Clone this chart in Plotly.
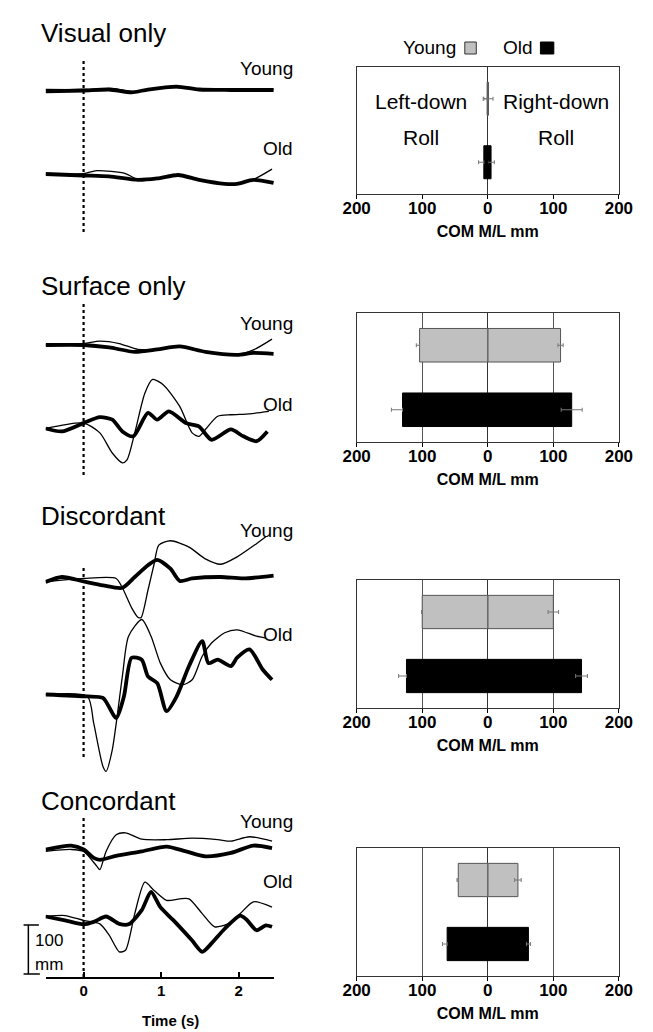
import plotly.graph_objects as go

W, H = 653, 1032

# ---------------- data: COM traces (mm, relative to each trace's baseline) ----------------
vis_young_thick_t = [-0.49, 0.0, 0.33, 0.62, 0.83, 1.2, 1.49, 1.9, 2.45]
vis_young_thick = [-3, -1, 1, -5, 1, 7, 1, 0, 0]
vis_young_thin_t = [-0.49, 0.0, 0.4, 0.62, 0.9, 1.2, 1.6, 2.1, 2.45]
vis_young_thin = [1, 1, 3, -3, 3, 5, 1, 3, 1]
vis_old_thick_t = [-0.49, 0.0, 0.33, 0.7, 0.95, 1.22, 1.49, 1.82, 1.98, 2.19, 2.45]
vis_old_thick = [2, -1, -3, -10, -7, 0, -10, -18, -18, -10, -16]
vis_old_thin_t = [-0.49, 0.0, 0.17, 0.54, 0.7, 0.95, 1.22, 1.49, 1.82, 1.98, 2.19, 2.43]
vis_old_thin = [2, 3, 9, 3, -9, -7, 0, -10, -18, -17, -9, 12]

surf_young_thick_t = [-0.49, 0.0, 0.33, 0.66, 0.95, 1.24, 1.57, 1.98, 2.19, 2.45]
surf_young_thick = [0, 0, -5, -14, -9, -3, -14, -20, -16, -18]
surf_young_thin_t = [-0.49, 0.0, 0.21, 0.46, 0.7, 0.95, 1.24, 1.57, 1.98, 2.19, 2.43]
surf_young_thin = [0, 3, 8, 3, -9, -9, -3, -14, -19, -10, 12]
surf_old_thick_t = [-0.49, -0.28, 0.0, 0.21, 0.37, 0.5, 0.64, 0.83, 0.95, 1.1, 1.32, 1.49,
                    1.65, 1.9, 2.06, 2.23, 2.37]
surf_old_thick = [-1, -7, 10, 22, 17, -7, -17, 31, 17, 34, 10, 3, -24, -3, -17, -27, -7]
surf_old_thin_t = [-0.49, 0.0, 0.21, 0.37, 0.5, 0.56, 0.66, 0.79, 0.89, 1.03, 1.24, 1.4,
                   1.49, 1.57, 1.73, 1.9, 2.14, 2.39]
surf_old_thin = [-1, 10, -10, -51, -71, -65, -10, 71, 99, 88, 44, -10, -17, -3, 24, 27, 29, 34]

disc_young_thick_t = [-0.49, -0.28, 0.0, 0.25, 0.5, 0.66, 0.83, 0.95, 1.12, 1.24, 1.4, 1.77,
                      2.06, 2.45]
disc_young_thick = [-10, 0, -9, -17, -22, 0, 24, 35, 17, -8, -3, 0, -3, 3]
disc_young_thin_t = [-0.49, 0.0, 0.42, 0.5, 0.62, 0.7, 0.74, 0.83, 0.91, 0.97, 1.12, 1.36,
                     1.57, 1.77, 1.98, 2.23, 2.35]
disc_young_thin = [-10, -3, -3, -22, -63, -82, -83, -27, 27, 65, 74, 61, 37, 26, 41, 68, 82]
disc_old_thick_t = [-0.49, 0.05, 0.25, 0.42, 0.52, 0.62, 0.75, 0.83, 0.95, 1.07, 1.2, 1.36,
                    1.53, 1.61, 1.73, 1.9, 1.98, 2.14, 2.31, 2.43]
disc_old_thick = [-1, -5, -8, -49, -5, 74, 70, 36, 22, -35, -5, 57, 108, 63, 70, 57, 74, 91,
                  50, 29]
disc_old_thin_t = [-0.49, 0.05, 0.13, 0.25, 0.29, 0.37, 0.5, 0.58, 0.75, 0.87, 0.99, 1.12,
                   1.28, 1.4, 1.53, 1.65, 1.82, 1.98, 2.23, 2.35]
disc_old_thin = [-1, -5, -59, -148, -158, -114, 36, 118, 152, 118, 63, 29, 19, 29, 77, 104,
                 125, 131, 118, 114]

conc_young_thick_t = [-0.49, -0.16, 0.0, 0.13, 0.21, 0.42, 0.75, 1.07, 1.32, 1.57, 1.9,
                      2.19, 2.43]
conc_young_thick = [-1, 7, -1, -18, -22, -14, -5, 5, -5, -15, -8, 7, 2]
conc_young_thin_t = [-0.49, -0.16, 0.0, 0.17, 0.21, 0.29, 0.42, 0.54, 0.75, 1.07, 1.4, 1.73,
                     1.9, 2.14, 2.43]
conc_young_thin = [-5, -1, -5, -35, -42, -5, 29, 33, 20, 19, 22, 19, 16, 25, 16]
conc_old_thick_t = [-0.49, -0.24, 0.0, 0.13, 0.29, 0.46, 0.58, 0.75, 0.87, 0.99, 1.16, 1.4,
                    1.53, 1.65, 1.82, 2.02, 2.1, 2.23, 2.35, 2.43]
conc_old_thick = [1, -7, -15, -10, 1, -14, -15, 14, 51, 20, -7, -48, -71, -54, -24, 3, -5,
                  -27, -17, -20]
conc_old_thin_t = [-0.49, -0.24, 0.0, 0.21, 0.33, 0.46, 0.54, 0.66, 0.79, 0.91, 1.07, 1.24,
                   1.36, 1.53, 1.69, 1.86, 2.02, 2.19, 2.43]
conc_old_thin = [1, 3, -7, -14, -37, -71, -68, 7, 71, 54, 34, 37, 37, 7, -20, -14, 7, 31, 20]

conditions = ["Visual only", "Surface only", "Discordant", "Concordant"]
time_ticks = [0, 1, 2]
SCALE_BAR_MM = 100

# ---------------- data: peak COM M/L displacement (mm) ----------------
groups = ["Young", "Old"]
young_left = [-1, -104, -100, -45]
young_right = [1, 111, 100, 46]
young_left_err = [6, 5, 1, 2]
young_right_err = [7, 4, 8, 5]
old_left = [-6, -130, -124, -62]
old_right = [5, 128, 143, 62]
old_left_err = [8, 17, 12, 7]
old_right_err = [5, 16, 9, 3]
bar_tickvals = [-200, -100, 0, 100, 200]
bar_ticktext = ["200", "100", "0", "100", "200"]

# ---------------- layout constants ----------------
SANS = "Liberation Sans, Arial, Helvetica, sans-serif"
PX_PER_MM = 0.49
AX_BOTTOM_PX = 977


def fx(x):
    return x / W


def fy(y):
    return 1 - y / H


def mm_at(ypx):
    return (AX_BOTTOM_PX - ypx) / PX_PER_MM


# baselines of traces (Young, Old) per condition, given by page pixel rows
base_px = [(90, 175), (345, 428), (577, 694), (849, 917)]
dot_px = [(60, 232), (303, 475), (565, 757), (817, AX_BOTTOM_PX)]
title_px = [33, 286, 516, 801]
label_px = [(68, 148), (323, 404), (530, 634), (821, 881)]

all_traces = [
    [(vis_young_thin_t, vis_young_thin), (vis_young_thick_t, vis_young_thick),
     (vis_old_thin_t, vis_old_thin), (vis_old_thick_t, vis_old_thick)],
    [(surf_young_thin_t, surf_young_thin), (surf_young_thick_t, surf_young_thick),
     (surf_old_thin_t, surf_old_thin), (surf_old_thick_t, surf_old_thick)],
    [(disc_young_thin_t, disc_young_thin), (disc_young_thick_t, disc_young_thick),
     (disc_old_thin_t, disc_old_thin), (disc_old_thick_t, disc_old_thick)],
    [(conc_young_thin_t, conc_young_thin), (conc_young_thick_t, conc_young_thick),
     (conc_old_thin_t, conc_old_thin), (conc_old_thick_t, conc_old_thick)],
]

fig = go.Figure()

for i, tr in enumerate(all_traces):
    yb, ob = base_px[i]
    offs = [mm_at(yb), mm_at(yb), mm_at(ob), mm_at(ob)]
    widths = [1.3, 3.8, 1.3, 3.8]
    for (t, v), off, w in zip(tr, offs, widths):
        fig.add_trace(go.Scatter(
            x=t, y=[off + val for val in v], mode="lines",
            line=dict(color="black", width=w, shape="spline", smoothing=0.7),
            xaxis="x", yaxis="y", showlegend=False, hoverinfo="skip"))
    d0, d1 = dot_px[i]
    fig.add_shape(type="line", xref="x", yref="y", x0=0, x1=0,
                  y0=mm_at(d1), y1=mm_at(d0),
                  line=dict(color="black", width=2.2, dash="dot"))
    fig.add_annotation(text=conditions[i], xref="paper", yref="paper",
                       x=fx(26), y=fy(title_px[i]), xanchor="left", yanchor="middle",
                       showarrow=False, font=dict(family=SANS, size=26, color="black"))
    ly, lo = label_px[i]
    fig.add_annotation(text="Young", xref="paper", yref="paper", x=fx(294), y=fy(ly),
                       xanchor="right", yanchor="middle", showarrow=False,
                       font=dict(family=SANS, size=19, color="black"))
    fig.add_annotation(text="Old", xref="paper", yref="paper", x=fx(294), y=fy(lo),
                       xanchor="right", yanchor="middle", showarrow=False,
                       font=dict(family=SANS, size=19, color="black"))

# scale bar (100 mm)
sb_y0 = mm_at(974)
sb_y1 = sb_y0 + SCALE_BAR_MM
for s in [dict(x0=fx(15), x1=fx(15), y0=sb_y0, y1=sb_y1),
          dict(x0=fx(10), x1=fx(26), y0=sb_y1, y1=sb_y1),
          dict(x0=fx(10), x1=fx(27), y0=sb_y0, y1=sb_y0)]:
    fig.add_shape(type="line", xref="paper", yref="y", line=dict(color="black", width=1.5), **s)
fig.add_annotation(text="100", xref="paper", yref="paper", x=fx(20), y=fy(940),
                   xanchor="left", yanchor="middle", showarrow=False,
                   font=dict(family=SANS, size=17, color="black"))
fig.add_annotation(text="mm", xref="paper", yref="paper", x=fx(20), y=fy(964),
                   xanchor="left", yanchor="middle", showarrow=False,
                   font=dict(family=SANS, size=17, color="black"))
fig.add_annotation(text="Time (s)", xref="paper", yref="paper", x=fx(163), y=fy(1020),
                   xanchor="center", yanchor="middle", showarrow=False,
                   font=dict(family=SANS, size=15, color="black", weight="bold"))

layout = dict(
    width=W, height=H, margin=dict(l=0, r=0, t=0, b=0),
    paper_bgcolor="white", plot_bgcolor="white", showlegend=False,
    barmode="relative",
    xaxis=dict(domain=[fx(33), fx(272)], range=[-0.49, 2.46], showgrid=False,
               zeroline=False, showline=True, linecolor="black", linewidth=1.5,
               ticks="inside", ticklen=5, tickwidth=1.5, tickcolor="black",
               tickvals=time_ticks, ticklabelstandoff=-1,
               tickfont=dict(family=SANS, size=15, color="black", weight="bold")),
    yaxis=dict(domain=[fy(AX_BOTTOM_PX), 1], range=[0, mm_at(0)],
               visible=False, fixedrange=True),
)

bar_px = [(67, 194), (313, 442), (580, 708), (848, 976)]
for i in range(4):
    n = i + 2
    xa, ya = f"x{n}", f"y{n}"
    top, bot = bar_px[i]
    fig.add_trace(go.Bar(
        y=["Young"], x=[young_right[i]], orientation="h", width=0.52,
        marker=dict(color="#c0c0c0", line=dict(color="#555555", width=1)),
        error_x=dict(type="data", array=[young_right_err[i]], color="#777777",
                     thickness=1, width=2),
        xaxis=xa, yaxis=ya, hoverinfo="skip"))
    fig.add_trace(go.Bar(
        y=["Young"], x=[young_left[i]], orientation="h", width=0.52,
        marker=dict(color="#c0c0c0", line=dict(color="#555555", width=1)),
        error_x=dict(type="data", symmetric=False, array=[0],
                     arrayminus=[young_left_err[i]], color="#777777", thickness=1, width=2),
        xaxis=xa, yaxis=ya, hoverinfo="skip"))
    fig.add_trace(go.Bar(
        y=["Old"], x=[old_right[i]], orientation="h", width=0.52,
        marker=dict(color="black", line=dict(color="black", width=1)),
        error_x=dict(type="data", array=[old_right_err[i]], color="#777777",
                     thickness=1, width=2),
        xaxis=xa, yaxis=ya, hoverinfo="skip"))
    fig.add_trace(go.Bar(
        y=["Old"], x=[old_left[i]], orientation="h", width=0.52,
        marker=dict(color="black", line=dict(color="black", width=1)),
        error_x=dict(type="data", symmetric=False, array=[0],
                     arrayminus=[old_left_err[i]], color="#777777", thickness=1, width=2),
        xaxis=xa, yaxis=ya, hoverinfo="skip"))
    layout[f"xaxis{n}"] = dict(
        domain=[fx(358), fx(632)], range=[-200, 200], anchor=ya,
        tickvals=bar_tickvals, ticktext=bar_ticktext, ticks="outside", ticklen=4,
        tickcolor="black", showgrid=(i > 0), gridcolor="#555555", gridwidth=1,
        zeroline=True, zerolinecolor="#333333", zerolinewidth=1.2,
        showline=True, linecolor="#333333", linewidth=1.2, mirror=True,
        ticklabelstandoff=-6,
        tickfont=dict(family=SANS, size=17, color="black", weight="bold"),
        title=dict(text="COM M/L mm", standoff=9,
                   font=dict(family=SANS, size=16, color="black", weight="bold")))
    layout[f"yaxis{n}"] = dict(
        domain=[fy(bot), fy(top)], anchor=xa, type="category",
        categoryorder="array", categoryarray=groups, range=[1.5, -0.5],
        showticklabels=False, ticks="", showgrid=False, zeroline=False,
        showline=True, linecolor="#333333", linewidth=1.2, mirror=True)

# legend above first bar panel
fig.add_annotation(text="Young", xref="paper", yref="paper", x=fx(434), y=fy(48),
                   xanchor="center", yanchor="middle", showarrow=False,
                   font=dict(family=SANS, size=19, color="black"))
fig.add_annotation(text="Old", xref="paper", yref="paper", x=fx(527), y=fy(48),
                   xanchor="center", yanchor="middle", showarrow=False,
                   font=dict(family=SANS, size=19, color="black"))
fig.add_shape(type="rect", xref="paper", yref="paper", x0=fx(471), x1=fx(483),
              y0=fy(54), y1=fy(42), fillcolor="#c0c0c0", line=dict(color="#333333", width=1))
fig.add_shape(type="rect", xref="paper", yref="paper", x0=fx(550), x1=fx(564),
              y0=fy(54), y1=fy(42), fillcolor="black", line=dict(color="black", width=1))

for txt, cx, cy in [("Left-down", 425, 102), ("Roll", 425, 137),
                    ("Right-down", 566, 102), ("Roll", 566, 137)]:
    fig.add_annotation(text=txt, xref="paper", yref="paper", x=fx(cx), y=fy(cy),
                       xanchor="center", yanchor="middle", showarrow=False,
                       font=dict(family=SANS, size=21, color="black"))

fig.update_layout(**layout)
fig.write_html("out.html", config={"displayModeBar": False},
               post_script="document.body.style.margin='0';"
                           "document.body.style.overflow='hidden';")
